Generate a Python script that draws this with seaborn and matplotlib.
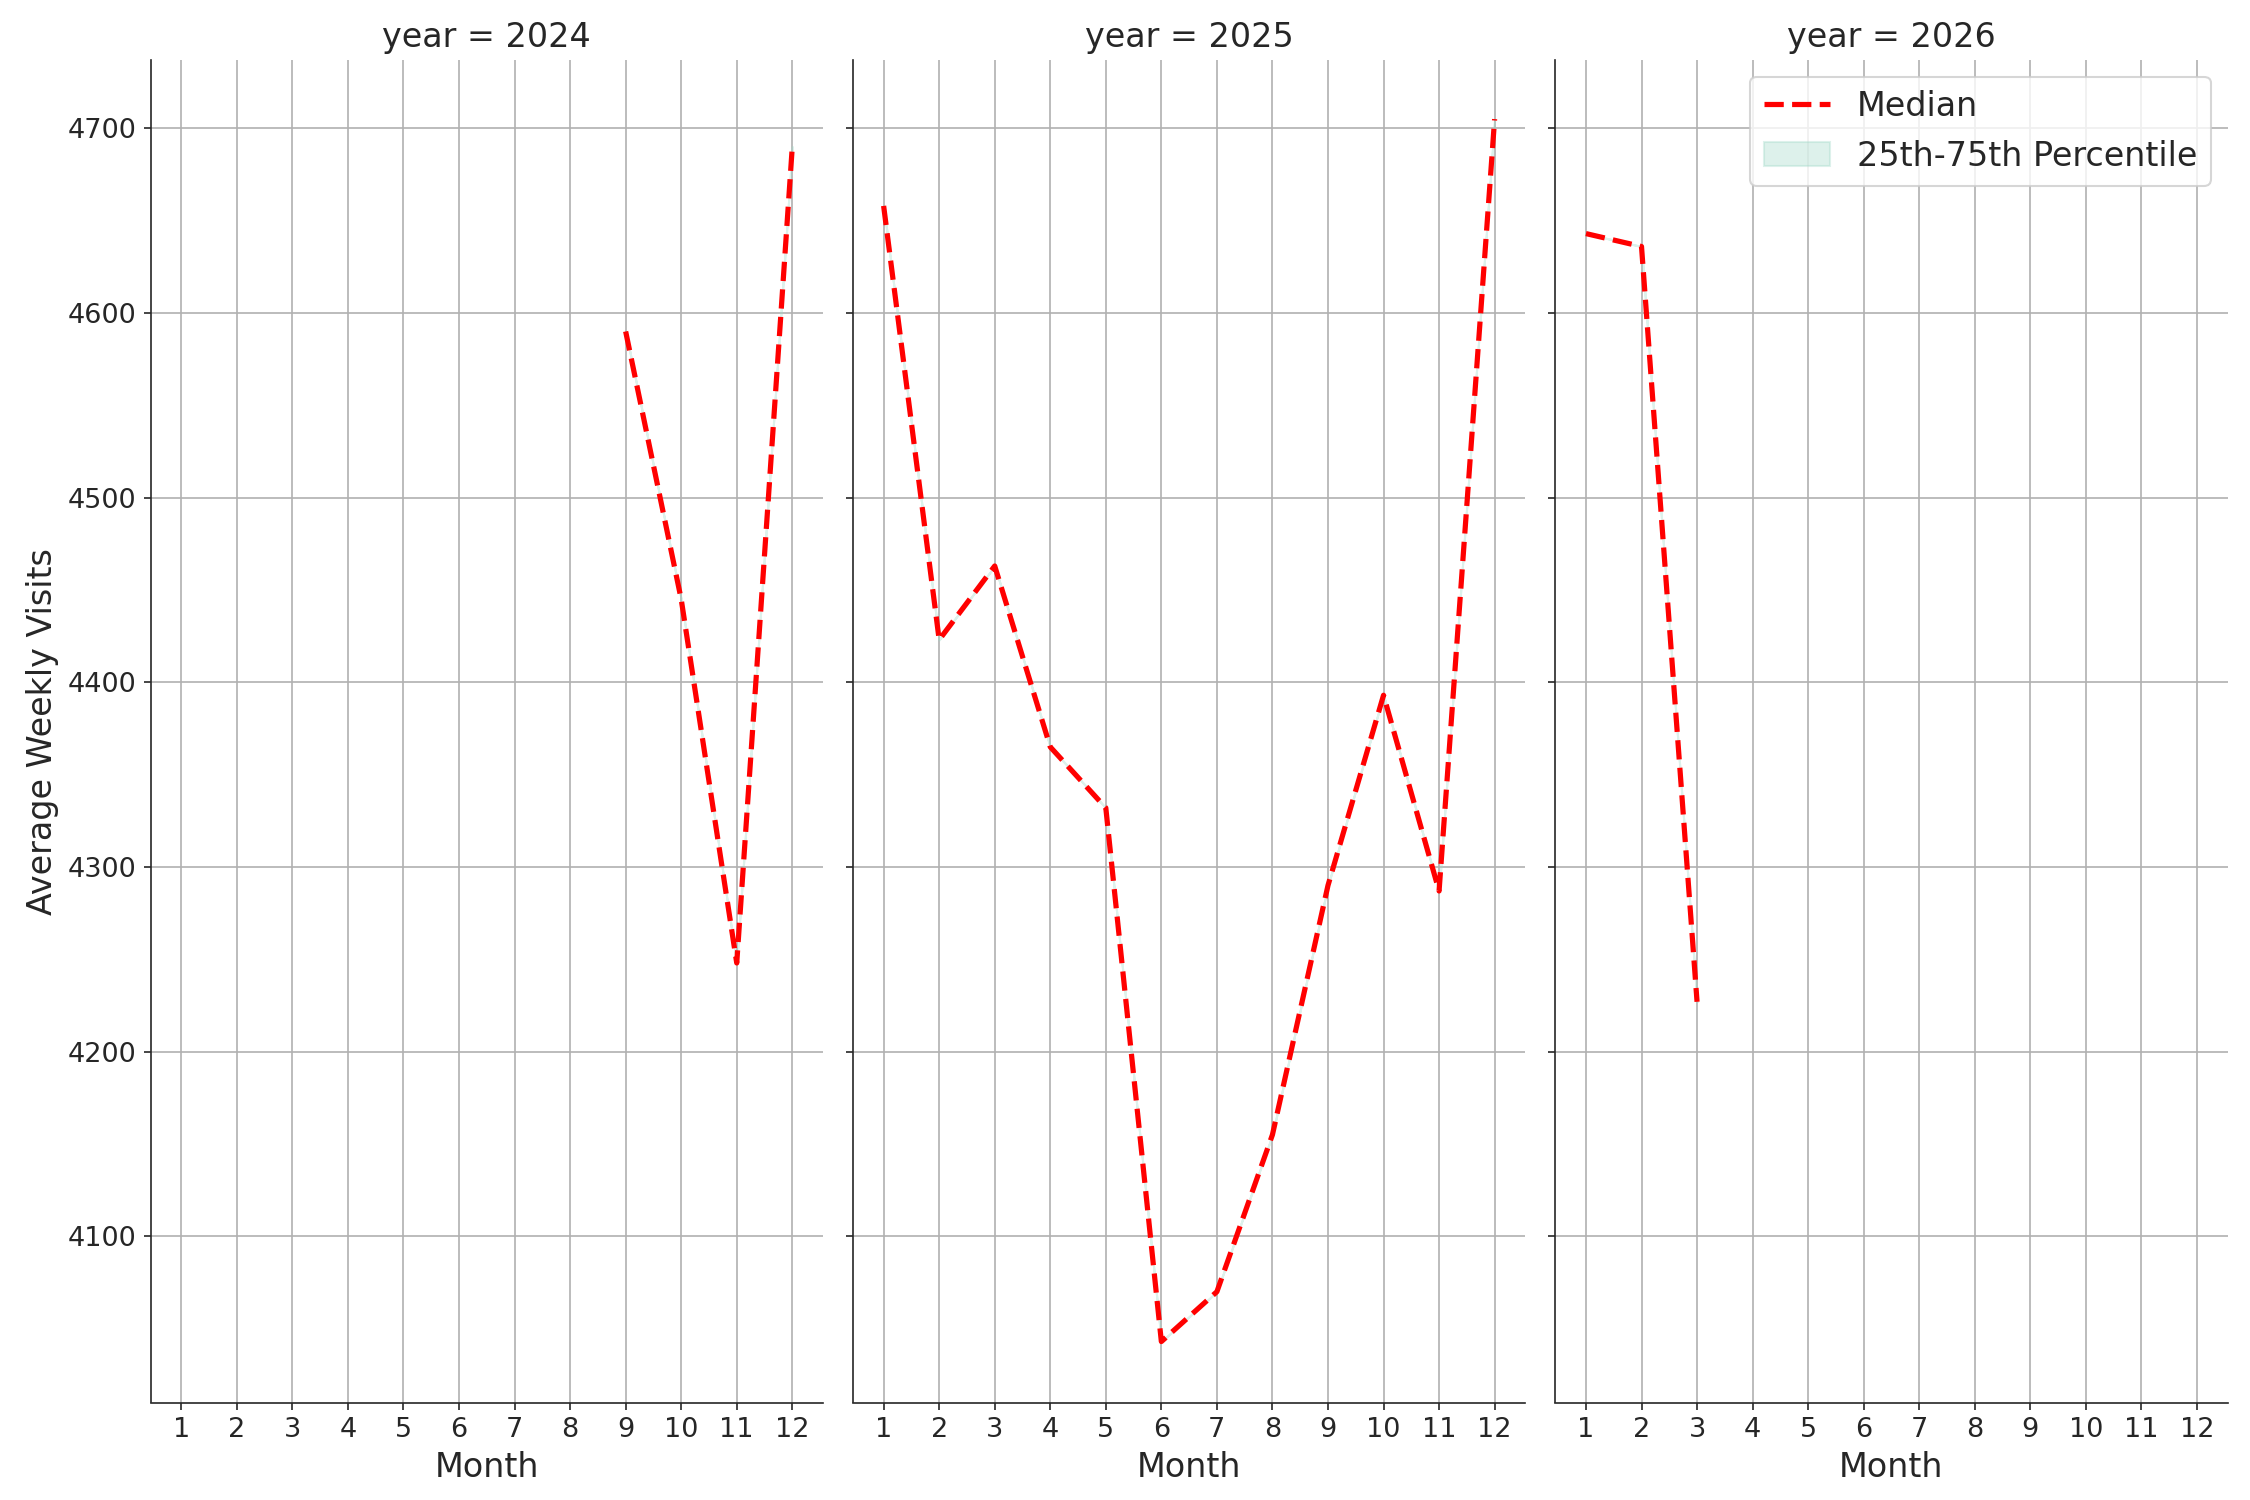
import matplotlib
matplotlib.use('Agg')
import matplotlib.pyplot as plt
import seaborn as sns
import pandas as pd

sns.set_style('ticks')

years = [2024] * 4 + [2025] * 12 + [2026] * 3
months = [9, 10, 11, 12] + list(range(1, 13)) + [1, 2, 3]
median = [4590, 4445, 4248, 4690,
          4658, 4423, 4463, 4365, 4332, 4043, 4070, 4155, 4290, 4393, 4287, 4705,
          4643, 4636, 4227]

df = pd.DataFrame({'year': years, 'month': months, 'median': median})
df['p25'] = df['median']
df['p75'] = df['median']


def draw(data, **kws):
    ax = plt.gca()
    d = data.sort_values('month')
    ax.plot(d['month'], d['median'], '--', color='red', linewidth=2.5, label='Median')
    ax.fill_between(d['month'], d['p25'], d['p75'], color='#9fd9c6', alpha=0.35,
                    label='25th-75th Percentile')


g = sns.FacetGrid(df, col='year', height=10, aspect=0.5, sharey=True)
g.map_dataframe(draw)
g.figure.set_size_inches(15, 10)
g.set_titles('year = {col_name}', size=16)
for ax in g.axes.flat:
    ax.set_xticks(range(1, 13))
    ax.set_xlim(0.45, 12.55)
    ax.grid(True, color='#b0b0b0')
    ax.tick_params(labelsize=13)
    ax.set_xlabel('Month', fontsize=16)
g.axes.flat[0].set_ylabel('Average Weekly Visits', fontsize=16)
g.axes.flat[0].set_ylim(4010, 4737)
g.axes.flat[0].set_yticks([4100, 4200, 4300, 4400, 4500, 4600, 4700])
g.axes.flat[2].legend(loc='upper right', fontsize=16)
g.figure.subplots_adjust(left=0.067, right=0.99, bottom=0.065, top=0.96, wspace=0.045)
plt.savefig('out.png', dpi=150)
